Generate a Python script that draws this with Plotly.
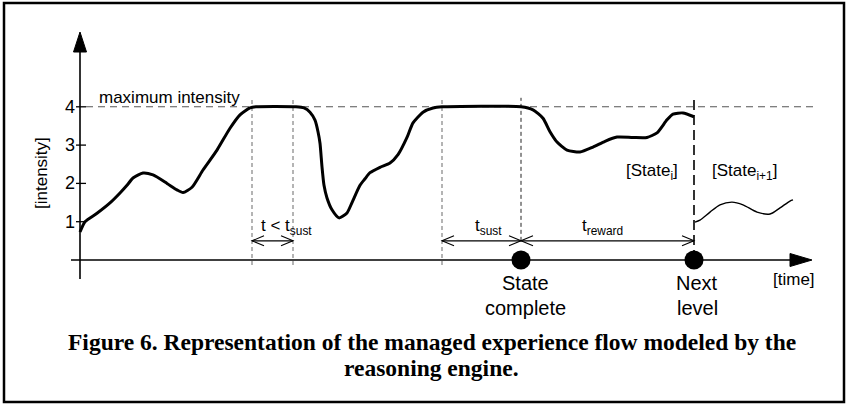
import plotly.graph_objects as go

# ---------------- data ----------------
# time in arbitrary units, intensity in [intensity] units
flow_time = [0.0, 0.5, 1.7, 3.0, 4.0, 4.7, 5.3, 6.3, 7.3, 8.7, 9.7, 10.3, 11.2, 12.3,
             13.7, 15.0, 16.0, 17.0, 17.6, 21.6, 22.4, 23.0, 23.5, 23.8, 24.0, 24.2,
             24.4, 24.7, 25.2, 25.9, 26.7, 27.2, 28.0, 28.5, 29.0, 30.0, 31.0, 31.8,
             32.7, 33.3, 34.3, 35.3, 36.2, 44.1, 45.3, 46.3, 47.0, 47.7, 48.7, 50.0,
             51.3, 52.5, 53.7, 55.3, 56.7, 57.7, 58.7, 59.3, 60.3, 61.4]
flow_intensity = [0.73, 1.0, 1.22, 1.49, 1.75, 1.95, 2.14, 2.27, 2.22, 2.0, 1.83, 1.76, 1.9, 2.35,
                  2.87, 3.44, 3.79, 3.97, 4.0, 4.0, 3.97, 3.86, 3.65, 3.35, 3.05, 2.43,
                  1.95, 1.62, 1.31, 1.10, 1.23, 1.5, 1.95, 2.12, 2.28, 2.42, 2.53, 2.75,
                  3.2, 3.58, 3.86, 3.97, 4.0, 4.0, 3.92, 3.7, 3.35, 3.08, 2.87, 2.82,
                  2.95, 3.1, 3.21, 3.2, 3.2, 3.32, 3.66, 3.81, 3.84, 3.74]

next_time = [61.5, 62.0, 63.0, 64.0, 65.2, 66.3, 67.7, 69.0, 70.0, 71.0, 71.3]
next_intensity = [0.99, 1.04, 1.25, 1.44, 1.51, 1.44, 1.25, 1.2, 1.36, 1.54, 1.57]

y_ticks = [1, 2, 3, 4]
y_tick_labels = ["1", "2", "3", "4"]
max_intensity = 4

t_reach_1 = 17.2      # first time max intensity reached
t_drop_1 = 21.3       # leaves max before t_sust
t_reach_2 = 36.2      # second time max reached
t_complete = 44.1     # state complete
t_next = 61.4         # next level
arrow_level = 0.5     # height of the duration arrows

# ---------------- pixel geometry helpers ----------------
W, H = 846, 406
PX_PER_T = 10.0
PX_PER_V = 38.3
X0_PX, Y0_PX = 80.0, 260.0
x_range = [-X0_PX / PX_PER_T, (W - X0_PX) / PX_PER_T]
y_range = [(Y0_PX - H) / PX_PER_V, Y0_PX / PX_PER_V]


def dt(px):
    return px / PX_PER_T


def dv(px):
    return px / PX_PER_V


fig = go.Figure()
shapes = []
annotations = []

FONT = "Arial, Liberation Sans, sans-serif"
SERIF = "Times New Roman, Liberation Serif, serif"

# --- maximum intensity dashed line
shapes.append(dict(type="line", x0=dt(6), x1=x_range[0] + dt(813), y0=max_intensity, y1=max_intensity,
                   line=dict(color="#555555", width=1.1, dash="7px,5px"), layer="below"))

# --- vertical dashed guides
v_top = max_intensity + dv(9)
for t in [t_reach_1, t_drop_1, t_reach_2]:
    shapes.append(dict(type="line", x0=t, x1=t, y0=-dv(5), y1=v_top,
                       line=dict(color="#777777", width=1.1, dash="4px,3px"), layer="below"))
shapes.append(dict(type="line", x0=t_complete, x1=t_complete, y0=arrow_level, y1=v_top,
                   line=dict(color="#222222", width=1.0, dash="4px,3px"), layer="below"))
shapes.append(dict(type="line", x0=t_next, x1=t_next, y0=0, y1=v_top,
                   line=dict(color="#000000", width=1.6, dash="10px,5px"), layer="below"))

# --- axes
shapes.append(dict(type="line", x0=0, x1=0, y0=-dv(19), y1=y_range[1] - dv(52),
                   line=dict(color="black", width=1.6)))
ay_tip = y_range[1] - dv(32)
ay_base = y_range[1] - dv(52)
shapes.append(dict(type="path",
                   path=f"M {-dt(6.5)},{ay_base} L 0,{ay_tip} L {dt(6.5)},{ay_base} Z",
                   fillcolor="black", line=dict(color="black", width=1)))
ax_base = dt(790 - X0_PX)
ax_tip = dt(812 - X0_PX)
shapes.append(dict(type="line", x0=-dt(9), x1=ax_base, y0=0, y1=0,
                   line=dict(color="black", width=1.6)))
shapes.append(dict(type="path",
                   path=f"M {ax_base},{dv(6.5)} L {ax_tip},0 L {ax_base},{-dv(6.5)} Z",
                   fillcolor="black", line=dict(color="black", width=1)))
for v, lab in zip(y_ticks, y_tick_labels):
    shapes.append(dict(type="line", x0=-dt(4), x1=dt(6), y0=v, y1=v,
                       line=dict(color="black", width=1.3)))
    annotations.append(dict(x=-dt(3.5), y=v, text=lab, showarrow=False, xanchor="right",
                            yanchor="middle", font=dict(family=FONT, size=18, color="black")))


# --- duration arrows with open heads
def head(tip, direction):
    bx = tip - direction * dt(12)
    return f"M {bx},{arrow_level + dv(5)} L {tip},{arrow_level} L {bx},{arrow_level - dv(5)}"


def duration(t0, t1):
    shapes.append(dict(type="line", x0=t0, x1=t1, y0=arrow_level, y1=arrow_level,
                       line=dict(color="black", width=1.1)))
    shapes.append(dict(type="path", path=head(t0, -1), line=dict(color="black", width=1.1)))
    shapes.append(dict(type="path", path=head(t1, 1), line=dict(color="black", width=1.1)))


duration(t_reach_1, t_drop_1)
duration(t_reach_2, t_complete)
duration(t_complete, t_next)

# --- border
shapes.append(dict(type="rect", xref="paper", yref="paper", x0=4 / W, x1=844 / W,
                   y0=1 - 402 / H, y1=1 - 3 / H, line=dict(color="black", width=2.5)))

# --- curves
fig.add_trace(go.Scatter(x=flow_time, y=flow_intensity, mode="lines",
                         line=dict(color="black", width=3, shape="spline", smoothing=0.6),
                         hoverinfo="skip"))
fig.add_trace(go.Scatter(x=next_time, y=next_intensity, mode="lines",
                         line=dict(color="black", width=1.4, shape="spline", smoothing=0.8),
                         hoverinfo="skip"))
fig.add_trace(go.Scatter(x=[t_complete, t_next], y=[0, 0], mode="markers",
                         marker=dict(color="black", size=19), hoverinfo="skip"))

# --- text
def txt(x, y, s, size=17, xa="center", ya="middle", **kw):
    annotations.append(dict(x=x, y=y, text=s, showarrow=False, xanchor=xa, yanchor=ya,
                            font=dict(family=FONT, size=size, color="black"), **kw))


txt(dt(17), max_intensity + dv(9), "maximum intensity", xa="left")
txt(-dt(39), dv(87), "[intensity]", textangle=-90)
txt(dt(714), -dv(19), "[time]")
txt(t_complete + dt(4), -dv(23), "State", size=20)
txt(t_complete + dt(4), -dv(48), "complete", size=20)
txt(t_next + dt(3), -dv(23), "Next", size=20)
txt(t_next + dt(3), -dv(48), "level", size=20)
txt(t_next - dt(14), dv(88), "[State<sub>i</sub>]", xa="right")
txt(t_next + dt(16), dv(88), "[State<sub>i+1</sub>]", xa="left")
txt(t_reach_1 + dt(7), arrow_level + dv(14), "t &lt; t<sub>sust</sub>", xa="left")
txt(t_reach_2 + dt(31), arrow_level + dv(14), "t<sub>sust</sub>", xa="left")
txt(t_complete + dt(59), arrow_level + dv(14), "t<sub>reward</sub>", xa="left")

for line_text, ypx in [("Figure 6. Representation of the managed experience flow modeled by the", 342),
                       ("reasoning engine.", 368)]:
    annotations.append(dict(x=432 / W, y=1 - ypx / H, xref="paper", yref="paper", text=f"<b>{line_text}</b>",
                            showarrow=False, xanchor="center", yanchor="middle",
                            font=dict(family=SERIF, size=23.5, color="black")))

fig.update_layout(width=W, height=H, autosize=False,
                  margin=dict(l=0, r=0, t=0, b=0, pad=0),
                  paper_bgcolor="white", plot_bgcolor="white", showlegend=False,
                  xaxis=dict(range=x_range, visible=False, fixedrange=True),
                  yaxis=dict(range=y_range, visible=False, fixedrange=True),
                  shapes=shapes, annotations=annotations)

fig.write_html("out.html", config={"displayModeBar": False, "staticPlot": True},
               post_script="document.body.style.margin='0';")
